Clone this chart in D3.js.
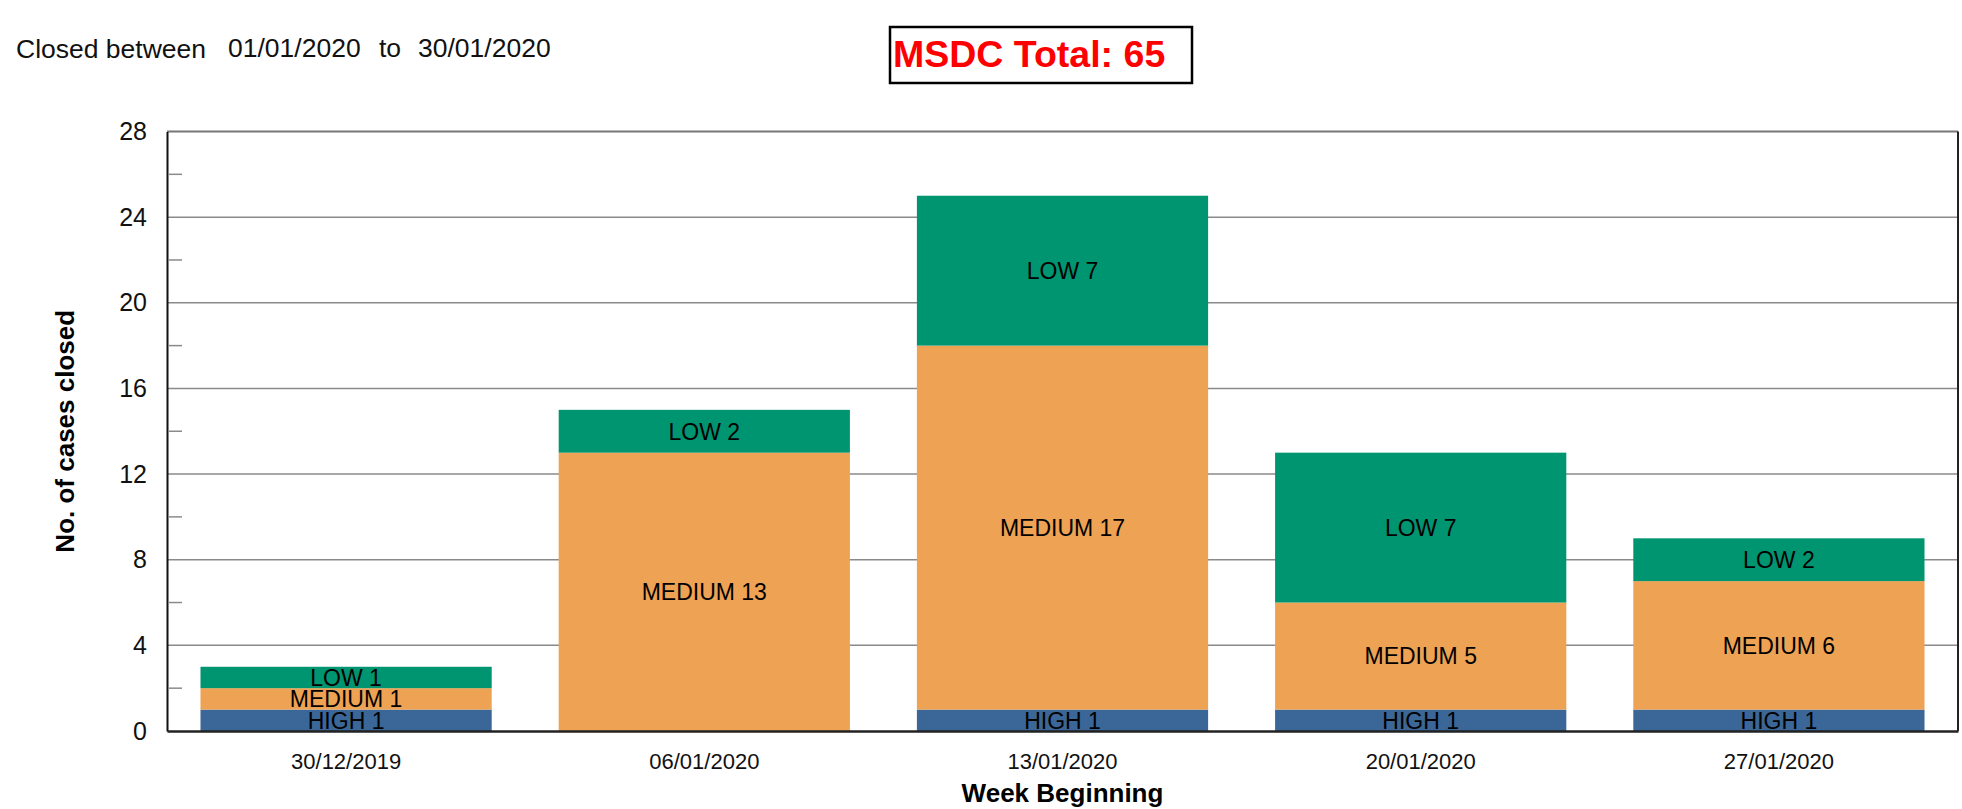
<!DOCTYPE html>
<html>

<head>
  <title>Cases closed</title>
  <style>
    body { margin: 0; background: #fff; }
    text { font-family: "Liberation Sans", Arial, sans-serif; }
  </style>
</head>

<body>
  <svg id="chart"></svg>

  <script src="https://d3js.org/d3.v7.min.js"></script>
  <script>
    // data
    let weeks = ["30/12/2019", "06/01/2020", "13/01/2020", "20/01/2020", "27/01/2020"];
    let priorities = ["HIGH", "MEDIUM", "LOW"];
    let high = [1, 0, 1, 1, 1];
    let medium = [1, 13, 17, 5, 6];
    let low = [1, 2, 7, 7, 2];
    let yTicks = [0, 4, 8, 12, 16, 20, 24, 28];
    let yMinorTicks = [2, 6, 10, 14, 18, 22, 26];
    let dateFrom = "01/01/2020", dateTo = "30/01/2020";

    let width = 1962, height = 809;
    let margin = { top: 131.5, right: 4, bottom: 78, left: 167 };
    let innerW = width - margin.left - margin.right;
    let innerH = height - margin.top - margin.bottom;

    let colors = { HIGH: "#3b6698", MEDIUM: "#eea253", LOW: "#009571" };

    let table = weeks.map((w, i) => ({ week: w, HIGH: high[i], MEDIUM: medium[i], LOW: low[i] }));
    let total = d3.sum(high) + d3.sum(medium) + d3.sum(low);

    let svg = d3.select("#chart").attr("width", width).attr("height", height);

    let xScale = d3.scaleBand().domain(weeks).range([0, innerW]).paddingInner(0.187).paddingOuter(0.0935);
    let yScale = d3.scaleLinear().domain([0, 28]).range([innerH, 0]);

    let g = svg.append("g").attr("transform", `translate(${margin.left}, ${margin.top})`);

    // gridlines
    g.append("g").selectAll("line")
      .data(yTicks.filter(t => t > 0 && t < 28))
      .join("line")
      .attr("x1", 0).attr("x2", innerW)
      .attr("y1", d => yScale(d)).attr("y2", d => yScale(d))
      .attr("stroke", "#8a8a8a").attr("stroke-width", 1.5);

    // minor ticks
    g.append("g").selectAll("line")
      .data(yMinorTicks)
      .join("line")
      .attr("x1", 2).attr("x2", 15)
      .attr("y1", d => yScale(d)).attr("y2", d => yScale(d))
      .attr("stroke", "#8a8a8a").attr("stroke-width", 1.5);

    // stacked bars
    let series = d3.stack().keys(priorities)(table);
    let layers = g.append("g").selectAll("g")
      .data(series)
      .join("g")
      .attr("fill", d => colors[d.key]);

    layers.selectAll("rect")
      .data(d => d)
      .join("rect")
      .attr("x", d => xScale(d.data.week))
      .attr("y", d => yScale(d[1]))
      .attr("width", xScale.bandwidth())
      .attr("height", d => yScale(d[0]) - yScale(d[1]));

    // segment labels
    let labels = [];
    series.forEach(s => s.forEach(d => {
      let v = d[1] - d[0];
      if (v > 0) labels.push({ key: s.key, v: v, week: d.data.week, mid: (d[0] + d[1]) / 2 });
    }));

    g.append("g").selectAll("text")
      .data(labels)
      .join("text")
      .attr("x", d => xScale(d.week) + xScale.bandwidth() / 2)
      .attr("y", d => yScale(d.mid))
      .attr("dy", "0.36em")
      .attr("text-anchor", "middle")
      .attr("font-size", 23)
      .attr("fill", "#000")
      .text(d => `${d.key} ${d.v}`);

    // frame
    g.append("line").attr("x1", 0).attr("x2", innerW).attr("y1", 0).attr("y2", 0)
      .attr("stroke", "#777").attr("stroke-width", 2);
    g.append("line").attr("x1", innerW).attr("x2", innerW).attr("y1", 0).attr("y2", innerH)
      .attr("stroke", "#222").attr("stroke-width", 2);

    // axes
    let yAxis = g.append("g")
      .call(d3.axisLeft(yScale).tickValues(yTicks).tickSize(0).tickPadding(20));
    yAxis.select(".domain").attr("stroke", "#111").attr("stroke-width", 2);
    yAxis.selectAll("text").attr("font-size", 25).attr("fill", "#111")
      .style("font-family", "'Liberation Sans', Arial, sans-serif");

    let xAxis = g.append("g")
      .attr("transform", `translate(0, ${innerH})`)
      .call(d3.axisBottom(xScale).tickSize(0).tickPadding(22));
    xAxis.select(".domain").attr("stroke", "#222").attr("stroke-width", 2.5);
    xAxis.selectAll("text").attr("font-size", 22).attr("fill", "#111")
      .style("font-family", "'Liberation Sans', Arial, sans-serif");

    // axis titles
    svg.append("text")
      .attr("transform", `translate(65, ${margin.top + innerH / 2}) rotate(-90)`)
      .attr("text-anchor", "middle")
      .attr("dy", "0.36em")
      .attr("font-size", 26).attr("font-weight", "bold")
      .text("No. of cases closed");

    svg.append("text")
      .attr("x", margin.left + innerW / 2)
      .attr("y", 802)
      .attr("text-anchor", "middle")
      .attr("font-size", 26).attr("font-weight", "bold")
      .text("Week Beginning");

    // header
    let header = svg.append("g").attr("font-size", 26.5).attr("fill", "#111");
    header.append("text").attr("x", 16).attr("y", 58).text("Closed between");
    header.append("text").attr("x", 228).attr("y", 57).text(dateFrom);
    header.append("text").attr("x", 379).attr("y", 57).text("to");
    header.append("text").attr("x", 418).attr("y", 57).text(dateTo);

    // total box
    svg.append("rect")
      .attr("x", 890).attr("y", 27).attr("width", 302).attr("height", 56)
      .attr("fill", "#fff").attr("stroke", "#000").attr("stroke-width", 2.5);
    svg.append("text")
      .attr("x", 893).attr("y", 67)
      .attr("font-size", 37.5).attr("font-weight", "bold").attr("fill", "#ff0000")
      .text(`MSDC Total: ${total}`);
  </script>
</body>

</html>
